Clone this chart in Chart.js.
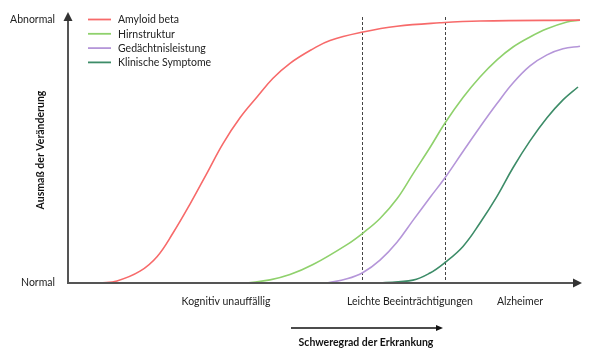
<!DOCTYPE html>
<html><head><meta charset="utf-8">
<style>html,body{margin:0;padding:0;background:#fff}#wrap{width:600px;height:351px}</style>
<script src="https://cdn.jsdelivr.net/npm/chart.js@4"></script>
</head><body><div id="wrap"><canvas id="c" width="600" height="351"></canvas></div>
<script>
const seriesNames = ["Amyloid beta", "Hirnstruktur", "Gedächtnisleistung", "Klinische Symptome"];
const seriesColors = ["#f76a6a", "#8fd16c", "#b596d9", "#3d8c68"];
const amyloidX = [32, 49, 72, 89, 105, 122, 139, 155, 172, 189, 205, 222, 245, 262, 295, 329, 372, 412, 512];
const amyloidY = [0, 0.8, 4.5, 10, 19, 30, 41.8, 53, 62.8, 70.7, 77.8, 83.5, 89, 92.2, 95.4, 97.6, 98.9, 99.6, 99.9];
const hirnX = [179, 202, 222, 245, 279, 295, 312, 329, 345, 362, 377, 395, 412, 429, 445, 462, 479, 499, 512];
const hirnY = [0, 1.2, 3.2, 7, 14.6, 19, 24.5, 32, 41.5, 51.5, 60.8, 70.5, 78.3, 84.8, 89.7, 93.5, 96.6, 99.2, 99.9];
const gedX = [259, 279, 295, 312, 329, 345, 362, 377, 395, 412, 429, 445, 462, 479, 495, 512];
const gedY = [0, 1.6, 4, 8.7, 15.5, 23.8, 32.5, 40, 50, 59.3, 68.2, 76, 82.5, 86.7, 89, 90];
const klinX = [312, 345, 362, 377, 395, 412, 429, 445, 462, 479, 495, 510];
const klinY = [0, 1.1, 3.8, 7.8, 13.9, 22.8, 32.9, 43.8, 54, 62.8, 69.6, 74.5];
const stageTicks = [158, 342, 452];
const stageLabels = ["Kognitiv unauffällig", "Leichte Beeinträchtigungen", "Alzheimer"];
const levelTicks = [0, 100];
const levelLabels = ["Normal", "Abnormal"];
const stageBorders = [294, 377];
const yTitle = "Ausmaß der Veränderung";
const xTitle = "Schweregrad der Erkrankung";

const FONT = "Lato, 'Open Sans', sans-serif";
const xs = [amyloidX, hirnX, gedX, klinX];
const ys = [amyloidY, hirnY, gedY, klinY];
const datasets = seriesNames.map((n, i) => ({
  label: n,
  data: xs[i].map((x, j) => ({x: x, y: ys[i][j]})),
  borderColor: seriesColors[i],
  backgroundColor: seriesColors[i],
  borderWidth: 1.6,
  pointRadius: 0,
  tension: 0.4,
  fill: false
}));

const decor = {
  id: 'decor',
  beforeDatasetsDraw(chart) {
    const ctx = chart.ctx, xS = chart.scales.x, yS = chart.scales.y, ca = chart.chartArea;
    ctx.save();
    ctx.strokeStyle = '#444'; ctx.lineWidth = 1; ctx.setLineDash([3, 2]);
    stageBorders.forEach(v => {
      const px = Math.round(xS.getPixelForValue(v)) + 0.5;
      ctx.beginPath(); ctx.moveTo(px, ca.top + 5); ctx.lineTo(px, ca.bottom); ctx.stroke();
    });
    ctx.restore();
  },
  afterDatasetsDraw(chart) {
    const ctx = chart.ctx, ca = chart.chartArea;
    ctx.save();
    ctx.strokeStyle = '#555'; ctx.fillStyle = '#333'; ctx.lineWidth = 2;
    ctx.beginPath(); ctx.moveTo(ca.left, ca.bottom); ctx.lineTo(ca.left, ca.top + 8); ctx.stroke();
    ctx.beginPath(); ctx.moveTo(ca.left, ca.top); ctx.lineTo(ca.left - 4.5, ca.top + 9); ctx.lineTo(ca.left + 4.5, ca.top + 9); ctx.closePath(); ctx.fill();
    const xe = ca.right - 3;
    ctx.beginPath(); ctx.moveTo(ca.left - 1, ca.bottom); ctx.lineTo(xe - 8, ca.bottom); ctx.stroke();
    ctx.beginPath(); ctx.moveTo(xe, ca.bottom); ctx.lineTo(xe - 9, ca.bottom - 4.5); ctx.lineTo(xe - 9, ca.bottom + 4.5); ctx.closePath(); ctx.fill();
    ctx.strokeStyle = '#111'; ctx.fillStyle = '#111'; ctx.lineWidth = 1.3;
    ctx.beginPath(); ctx.moveTo(291, 328); ctx.lineTo(438, 328); ctx.stroke();
    ctx.beginPath(); ctx.moveTo(443, 328); ctx.lineTo(436, 325); ctx.lineTo(436, 331); ctx.closePath(); ctx.fill();
    ctx.font = "bold 10.5px " + FONT; ctx.textAlign = 'center'; ctx.textBaseline = 'middle';
    ctx.fillText(xTitle, 366, 343);
    ctx.save(); ctx.translate(41, 150); ctx.rotate(-Math.PI / 2);
    ctx.fillText(yTitle, 0, 0); ctx.restore();
    ctx.font = "10.5px " + FONT; ctx.textAlign = 'left';
    chart.data.datasets.forEach((d, i) => {
      const y = 19.5 + i * 14.3;
      ctx.strokeStyle = d.borderColor; ctx.lineWidth = 1.8;
      ctx.beginPath(); ctx.moveTo(88, y); ctx.lineTo(111, y); ctx.stroke();
      ctx.fillStyle = '#222'; ctx.fillText(d.label, 118, y + 0.5);
    });
    ctx.restore();
  }
};

new Chart(document.getElementById('c'), {
  type: 'line',
  data: { datasets: datasets },
  options: {
    responsive: false, animation: false,
    layout: { padding: { top: 12, right: 15, left: 0, bottom: 0 } },
    plugins: { legend: { display: false }, tooltip: { enabled: false } },
    scales: {
      x: {
        type: 'linear', min: 0, max: 517,
        grid: { display: false, drawTicks: false }, border: { display: false },
        afterFit: s => { s.height = 68; s.paddingLeft = 0; s.paddingRight = 0; },
        afterBuildTicks: s => { s.ticks = stageTicks.map(v => ({ value: v })); },
        ticks: { autoSkip: false, maxRotation: 0, padding: 12, color: '#222', font: { family: FONT, size: 10.5 },
          callback: (v) => stageLabels[stageTicks.indexOf(v)] }
      },
      y: {
        type: 'linear', min: 0, max: 103,
        grid: { display: false, drawTicks: false }, border: { display: false },
        afterFit: s => { s.width = 68; s.paddingTop = 0; s.paddingBottom = 0; },
        afterBuildTicks: s => { s.ticks = levelTicks.map(v => ({ value: v })); },
        ticks: { padding: 13, color: '#222', font: { family: FONT, size: 10.5 },
          callback: (v) => levelLabels[levelTicks.indexOf(v)] }
      }
    }
  },
  plugins: [decor, { id: 'probe', afterLayout(c) { document.title = JSON.stringify(c.chartArea); } }]
});
</script></body></html>
